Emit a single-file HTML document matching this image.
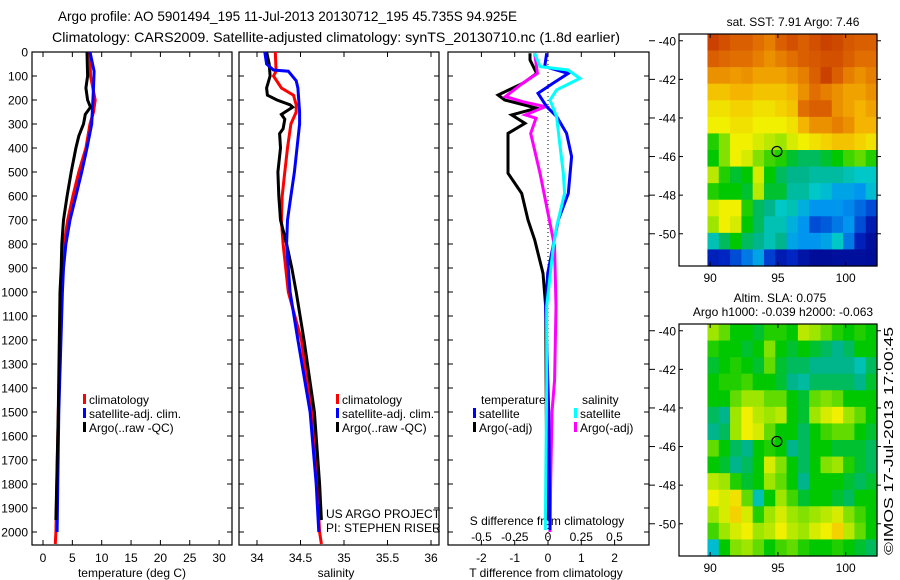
<!DOCTYPE html>
<html><head><meta charset="utf-8"><style>
html,body{margin:0;padding:0;background:#fff;}
svg{display:block;font-family:"Liberation Sans",sans-serif;}
</style></head><body>
<svg id="fig" width="900" height="580" viewBox="0 0 900 580" xmlns="http://www.w3.org/2000/svg">
<text x="58" y="21" font-size="14" textLength="459" lengthAdjust="spacingAndGlyphs">Argo profile: AO 5901494_195 11-Jul-2013 20130712_195 45.735S 94.925E</text>
<text x="52" y="42" font-size="14" textLength="568" lengthAdjust="spacingAndGlyphs">Climatology: CARS2009. Satellite-adjusted climatology: synTS_20130710.nc (1.8d earlier)</text>
<g id="g"></g>
</svg>
<script>
// ---- data ----
const tDepthRed=[0,100,200,250,300,400,500,600,700,800,900,1000,1500,2000,2050];
const tRed=[8.0,8.1,8.9,8.6,8.0,7.3,6.1,5.1,4.2,3.6,3.4,3.2,2.6,2.2,2.1];
const tDepthBlue=[0,80,150,250,300,400,500,600,700,800,900,1000,1500,2000];
const tBlue=[8.0,8.7,8.6,8.4,8.3,7.5,6.6,5.6,4.6,3.9,3.5,3.3,2.7,2.4];
const tDepthArgo=[0,100,150,200,230,260,300,350,400,500,600,700,800,900,1000,1500,1950];
const tArgo=[7.5,7.6,7.3,7.6,8.1,7.2,6.9,6.1,5.6,4.8,4.1,3.5,3.2,3.1,2.9,2.6,2.2];
const sDepthRed=[0,80,100,150,180,220,250,300,400,500,600,700,800,900,1000,1200,1500,1800,2000,2050];
const sRed=[34.21,34.22,34.19,34.28,34.42,34.45,34.45,34.39,34.35,34.32,34.29,34.28,34.30,34.33,34.36,34.51,34.63,34.69,34.72,34.74];
const sDepthBlue=[0,50,75,80,120,150,250,300,400,500,600,700,800,900,1000,1200,1500,1800,2000];
const sBlue=[34.09,34.11,34.19,34.36,34.45,34.47,34.49,34.49,34.46,34.43,34.39,34.35,34.34,34.36,34.38,34.47,34.61,34.68,34.71];
const sDepthArgo=[0,50,100,150,180,200,220,230,260,280,320,340,400,500,600,700,800,900,1000,1200,1500,1800,1950];
const sArgo=[34.11,34.14,34.15,34.11,34.12,34.23,34.38,34.41,34.28,34.32,34.30,34.26,34.27,34.24,34.25,34.27,34.34,34.40,34.45,34.54,34.66,34.72,34.74];
const dtDepthArgo=[5,33,89,130,179,200,234,262,297,339,505,589,700,783,922,1061,1500,1950];
const dtArgo=[-0.54,-0.54,-0.34,-0.75,-1.5,-1.3,-0.34,-1.09,-0.69,-1.2,-1.2,-0.79,-0.6,-0.4,-0.15,-0.07,-0.05,-0.02];
const dsDepthArgo=[5,89,130,186,207,228,262,276,339,505,728,811,1061,1367,1500,1783,2000];
const dsArgo=[-0.1,-0.08,-0.19,-0.32,-0.19,-0.02,-0.17,-0.09,-0.13,-0.06,0.02,0.05,0.06,0.05,0.03,0.02,0.015];
const dtDepthSat=[5,61,89,130,172,228,269,339,436,589,700,811,922,1061,1500,1992];
const dtSat=[-0.04,-0.1,0.61,0.15,-0.3,-0.04,0.26,0.56,0.71,0.61,0.31,0.15,-0.01,-0.07,0.02,0.06];
const dsDepthSat=[5,61,75,110,158,200,269,366,505,589,728,811,1061,1367,1992];
const dsSat=[-0.1,-0.06,0.15,0.24,0.065,0.015,0.065,0.085,0.115,0.125,0.065,0.04,-0.01,-0.01,-0.02];
const depthTicks=[0,100,200,300,400,500,600,700,800,900,1000,1100,1200,1300,1400,1500,1600,1700,1800,1900,2000];
const tTicks=[0,5,10,15,20,25,30];
const sTicks=[34,34.5,35,35.5,36];
const sTickLabels=["34","34.5","35","35.5","36"];
const dTTicks=[-2,-1,0,1,2];
const dSTicks=[-0.5,-0.25,0,0.25,0.5];
const dSTickLabels=["-0.5","-0.25","0","0.25","0.5"];
const lonTicks=[90,95,100];
const latTicks=[-40,-42,-44,-46,-48,-50];
const sstGrid=[
[0.88,0.86,0.84,0.84,0.82,0.8,0.84,0.86,0.84,0.86,0.88,0.87,0.85,0.84,0.84],
[0.84,0.83,0.82,0.82,0.80,0.78,0.8,0.82,0.84,0.85,0.86,0.86,0.84,0.82,0.82],
[0.78,0.78,0.77,0.78,0.76,0.76,0.76,0.78,0.8,0.84,0.88,0.84,0.8,0.78,0.8],
[0.72,0.72,0.74,0.74,0.72,0.72,0.72,0.74,0.78,0.82,0.8,0.78,0.76,0.76,0.78],
[0.68,0.68,0.7,0.7,0.68,0.68,0.7,0.72,0.82,0.84,0.84,0.78,0.76,0.74,0.76],
[0.66,0.66,0.68,0.68,0.66,0.66,0.66,0.68,0.74,0.78,0.78,0.8,0.78,0.74,0.74],
[0.52,0.58,0.66,0.66,0.64,0.62,0.6,0.64,0.66,0.68,0.7,0.72,0.72,0.7,0.68],
[0.5,0.58,0.66,0.64,0.58,0.54,0.52,0.48,0.46,0.46,0.48,0.5,0.54,0.56,0.52],
[0.62,0.52,0.48,0.5,0.64,0.5,0.46,0.44,0.44,0.42,0.42,0.42,0.4,0.38,0.38],
[0.52,0.5,0.5,0.48,0.62,0.48,0.48,0.42,0.42,0.38,0.36,0.32,0.32,0.3,0.36],
[0.64,0.66,0.66,0.52,0.46,0.44,0.38,0.4,0.34,0.3,0.3,0.3,0.28,0.24,0.2],
[0.6,0.66,0.64,0.5,0.46,0.4,0.4,0.34,0.3,0.2,0.22,0.26,0.3,0.2,0.1],
[0.4,0.46,0.5,0.46,0.44,0.4,0.44,0.32,0.3,0.3,0.32,0.38,0.26,0.12,0.06],
[0.12,0.14,0.2,0.26,0.32,0.18,0.1,0.14,0.08,0.05,0.05,0.06,0.06,0.06,0.05]];
const slaGrid=[
[0.6,0.56,0.5,0.5,0.48,0.52,0.52,0.5,0.62,0.6,0.56,0.52,0.5,0.52,0.5],
[0.52,0.5,0.5,0.48,0.5,0.58,0.5,0.48,0.5,0.48,0.46,0.44,0.46,0.5,0.5],
[0.48,0.5,0.52,0.5,0.48,0.56,0.48,0.46,0.46,0.44,0.44,0.44,0.44,0.4,0.46],
[0.5,0.52,0.52,0.54,0.5,0.5,0.48,0.44,0.42,0.46,0.46,0.46,0.46,0.44,0.48],
[0.5,0.5,0.56,0.6,0.6,0.56,0.56,0.5,0.48,0.56,0.58,0.56,0.5,0.5,0.5],
[0.46,0.44,0.6,0.66,0.62,0.6,0.62,0.5,0.48,0.6,0.64,0.66,0.6,0.56,0.5],
[0.44,0.46,0.6,0.66,0.64,0.56,0.5,0.5,0.46,0.5,0.54,0.56,0.56,0.5,0.48],
[0.56,0.5,0.46,0.44,0.5,0.52,0.5,0.44,0.46,0.5,0.5,0.48,0.48,0.48,0.46],
[0.5,0.48,0.44,0.46,0.5,0.64,0.58,0.5,0.46,0.5,0.58,0.6,0.52,0.48,0.46],
[0.62,0.6,0.52,0.48,0.5,0.6,0.56,0.5,0.44,0.5,0.5,0.5,0.48,0.46,0.48],
[0.66,0.64,0.68,0.56,0.4,0.5,0.6,0.54,0.48,0.5,0.5,0.48,0.46,0.5,0.5],
[0.6,0.64,0.7,0.64,0.52,0.6,0.64,0.6,0.58,0.6,0.62,0.64,0.58,0.54,0.5],
[0.54,0.6,0.64,0.66,0.6,0.62,0.66,0.62,0.6,0.64,0.66,0.7,0.62,0.56,0.5],
[0.36,0.5,0.58,0.6,0.56,0.5,0.54,0.56,0.52,0.5,0.5,0.52,0.5,0.48,0.46]];
const argoLon=94.925, argoLat=-45.735;

// ---- drawing ----
const NS="http://www.w3.org/2000/svg";
const G=document.getElementById('g');
function mk(tag,attrs,parent){const e=document.createElementNS(NS,tag);for(const k in attrs)e.setAttribute(k,attrs[k]);(parent||G).appendChild(e);return e;}
function txt(x,y,s,size,anchor,parent){const e=mk('text',{x:x,y:y,'font-size':size||12,'text-anchor':anchor||'start'},parent);e.textContent=s;return e;}
const Y=d=>52+d*0.24;
const yBot=545;
const panels=[
 {name:'temperature-panel',x0:32,x1:232,v0:-1.874,scale:5.87},
 {name:'salinity-panel',x0:239,x1:439,v0:33.793,scale:87},
 {name:'difference-panel',x0:448,x1:649,v0:-3.003,scale:33.3}];
const X=(p,v)=>p.x0+(v-p.v0)*p.scale;
function line(p,depths,vals,color,name,sc){
 const pts=depths.map((d,i)=>{const x=sc?548+vals[i]*sc:X(p,vals[i]);return x.toFixed(1)+','+Y(d).toFixed(1);}).join(' ');
 const e=mk('polyline',{points:pts,fill:'none',stroke:color,'stroke-width':3,'stroke-linejoin':'miter'});
 
 
}
panels.forEach((p,pi)=>{
 const r=mk('rect',{x:p.x0,y:52,width:p.x1-p.x0,height:yBot-52,fill:'none',stroke:'#000','stroke-width':1.2});
 
 
 depthTicks.forEach(d=>{mk('line',{x1:p.x0,x2:p.x0+5,y1:Y(d),y2:Y(d),stroke:'#000'});mk('line',{x1:p.x1-5,x2:p.x1,y1:Y(d),y2:Y(d),stroke:'#000'});});
});
depthTicks.forEach(d=>{const t=txt(28,Y(d)+4.5,String(d),12,'end');});
const pT=panels[0],pS=panels[1],pD=panels[2];
tTicks.forEach(v=>{const x=X(pT,v);mk('line',{x1:x,x2:x,y1:yBot,y2:yBot-5,stroke:'#000'});mk('line',{x1:x,x2:x,y1:52,y2:57,stroke:'#000'});const t=txt(x,562,String(v),12,'middle');});
sTicks.forEach((v,i)=>{const x=X(pS,v);mk('line',{x1:x,x2:x,y1:yBot,y2:yBot-5,stroke:'#000'});mk('line',{x1:x,x2:x,y1:52,y2:57,stroke:'#000'});const t=txt(x,562,sTickLabels[i],12,'middle');});
dTTicks.forEach(v=>{const x=X(pD,v);mk('line',{x1:x,x2:x,y1:yBot,y2:yBot-5,stroke:'#000'});mk('line',{x1:x,x2:x,y1:52,y2:57,stroke:'#000'});const t=txt(x,562,String(v),12,'middle');});
dSTicks.forEach((v,i)=>{const x=548+v*133;const t=txt(x,541,dSTickLabels[i],12,'middle');});
let e;
e=txt(132,577,'temperature (deg C)',12,'middle');
e=txt(336,577,'salinity',12,'middle');
e=txt(546,577,'T difference from climatology',12,'middle');
e=txt(547,525,'S difference from climatology',12,'middle');
mk('line',{x1:548,x2:548,y1:52,y2:yBot,stroke:'#000','stroke-dasharray':'1,3'});
// series
line(pT,tDepthRed,tRed,'#f00','temp-climatology-line');
line(pT,tDepthBlue,tBlue,'#00f','temp-satellite-line');
line(pT,tDepthArgo,tArgo,'#000','temp-argo-line');
line(pS,sDepthRed,sRed,'#f00','sal-climatology-line');
line(pS,sDepthArgo,sArgo,'#000','sal-argo-line');
line(pS,sDepthBlue,sBlue,'#00f','sal-satellite-line');
line(pD,dtDepthArgo,dtArgo,'#000','t-diff-argo-line',33.3);
line(pD,dsDepthArgo,dsArgo,'#f0f','s-diff-argo-line',133);
line(pD,dtDepthSat,dtSat,'#00f','t-diff-satellite-line',33.3);
line(pD,dsDepthSat,dsSat,'#0ff','s-diff-satellite-line',133);
// legends
function leg(x,y,color,label,name){mk('rect',{x:x,y:y-10,width:3,height:10,fill:color});const t=txt(x+6,y,label,12);}
leg(83,404,'#f00','climatology','legend-climatology');
leg(83,418,'#00f','satellite-adj. clim.','legend-satellite-adj');
leg(83,432,'#000','Argo(..raw -QC)','legend-argo');
leg(336,404,'#f00','climatology','legend-climatology-sal');
leg(336,418,'#00f','satellite-adj. clim.','legend-satellite-adj-sal');
leg(336,432,'#000','Argo(..raw -QC)','legend-argo-sal');
e=txt(481,404,'temperature',12);
e=txt(582,404,'salinity',12);
leg(473,418,'#00f','satellite','legend-t-satellite');
leg(473,432,'#000','Argo(-adj)','legend-t-argo');
leg(574,418,'#0ff','satellite','legend-s-satellite');
leg(574,432,'#f0f','Argo(-adj)','legend-s-argo');
e=txt(326,518,'US ARGO PROJECT',12);
e=txt(326,532,'PI: STEPHEN RISER',12);
// maps
const stops=[[0,[0,0,128]],[0.15,[0,40,200]],[0.3,[0,150,240]],[0.38,[0,200,200]],[0.44,[0,180,140]],[0.5,[0,200,0]],[0.58,[130,225,0]],[0.66,[240,240,0]],[0.74,[245,180,0]],[0.82,[225,110,0]],[0.9,[195,50,0]],[1,[160,0,0]]];
function cmap(v){for(let i=1;i<stops.length;i++){if(v<=stops[i][0]){const a=stops[i-1],b=stops[i];const f=(v-a[0])/(b[0]-a[0]);const c=a[1].map((q,k)=>Math.round(q+(b[1][k]-q)*f));return 'rgb('+c.join(',')+')';}}return 'rgb(160,0,0)';}
function map(grid,top,name){
 const bx0=679,bx1=877,by0=top,by1=top+232;
 const lon0=87.7,lat0=-39.65;const px=13.55,py=19.3;
 const LX=l=>bx0+(l-lon0)*px, LY=l=>by0+(lat0-l)*py;
 const dx0=LX(89.8),nR=grid.length,nC=grid[0].length;
 const cw=(bx1-dx0)/nC,ch=(by1-by0)/nR;
 const g=mk('g',{});
 grid.forEach((row,r)=>row.forEach((v,c)=>{const cell=mk('rect',{x:(dx0+c*cw).toFixed(2),y:(by0+r*ch).toFixed(2),width:(cw+0.6).toFixed(2),height:(ch+0.6).toFixed(2),fill:cmap(v)},g);
  
  }));
 mk('rect',{x:bx0,y:by0,width:bx1-bx0,height:by1-by0,fill:'none',stroke:'#000','stroke-width':1.2});
 lonTicks.forEach(l=>{const x=LX(l);mk('line',{x1:x,x2:x,y1:by1,y2:by1-4,stroke:'#000'});mk('line',{x1:x,x2:x,y1:by0,y2:by0+4,stroke:'#000'});const t=txt(x,by1+16,String(l),12,'middle');});
 latTicks.forEach(l=>{const y=LY(l);mk('line',{x1:bx0,x2:bx0+4,y1:y,y2:y,stroke:'#000'});mk('line',{x1:bx1,x2:bx1+4,y1:y,y2:y,stroke:'#000'});mk('line',{x1:649,x2:655,y1:y,y2:y,stroke:'#000'});const t=txt(676,y+4.5,String(l),12,'end');});
 const m=mk('circle',{cx:LX(argoLon),cy:LY(argoLat),r:5,fill:'none',stroke:'#000','stroke-width':1.2});
 
 
}
map(sstGrid,34,'sst-map');
map(slaGrid,324,'sla-map');
e=txt(793,26,'sat. SST: 7.91 Argo: 7.46',12,'middle');
e=txt(780,302,'Altim. SLA: 0.075',12,'middle');
e=txt(783,316,'Argo h1000: -0.039 h2000: -0.063',12,'middle');
e=txt(0,0,'©IMOS 17-Jul-2013 17:00:45',13,'start');e.setAttribute('transform','translate(893,555) rotate(-90)');e.setAttribute('textLength','228');e.setAttribute('lengthAdjust','spacingAndGlyphs');
</script>
</body></html>
